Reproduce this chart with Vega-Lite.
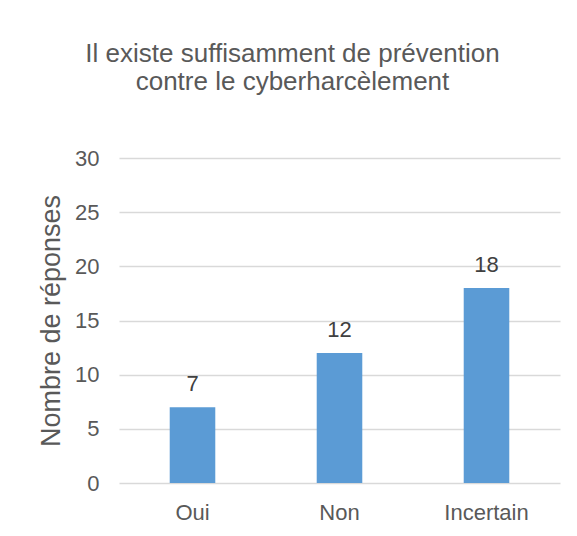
{
  "$schema": "https://vega.github.io/schema/vega-lite/v6.json",
  "autosize": "none",
  "width": 441,
  "height": 325,
  "padding": {"left": 119, "top": 158, "right": 17, "bottom": 53},
  "background": "white",
  "config": {
    "font": "Liberation Sans",
    "view": {"stroke": null},
    "axis": {"labelColor": "#595959", "titleColor": "#595959", "labelFont": "Liberation Sans", "titleFont": "Liberation Sans"}
  },
  "title": {
    "text": ["Il existe suffisamment de prévention", "contre le cyberharcèlement"],
    "anchor": "middle",
    "frame": "group",
    "dx": -47,
    "dy": 40,
    "fontSize": 26,
    "lineHeight": 28,
    "font": "Liberation Sans",
    "fontWeight": "normal",
    "color": "#595959",
    "baseline": "bottom",
    "offset": 66
  },
  "data": {
    "values": [
      {"reponse": "Oui", "nombre": 7},
      {"reponse": "Non", "nombre": 12},
      {"reponse": "Incertain", "nombre": 18}
    ]
  },
  "encoding": {
    "x": {
      "field": "reponse",
      "type": "nominal",
      "sort": ["Oui", "Non", "Incertain"],
      "scale": {"paddingInner": 0.69, "paddingOuter": 0.345},
      "axis": {
        "title": null,
        "labelAngle": 0,
        "labelFontSize": 22,
        "labelPadding": 19,
        "ticks": false,
        "domain": false,
        "grid": false
      }
    },
    "y": {
      "field": "nombre",
      "type": "quantitative",
      "scale": {"domain": [0, 30]},
      "axis": {
        "title": "Nombre de réponses",
        "titleFontSize": 27,
        "titleFontWeight": "normal",
        "titlePadding": 9,
        "values": [0, 5, 10, 15, 20, 25, 30],
        "labelFontSize": 22,
        "labelPadding": 20,
        "ticks": false,
        "domain": false,
        "grid": true,
        "gridColor": "#D9D9D9",
        "gridWidth": 1.3
      }
    }
  },
  "layer": [
    {"mark": {"type": "bar", "color": "#5B9BD5"}},
    {
      "mark": {"type": "text", "baseline": "alphabetic", "dy": -16, "fontSize": 22, "color": "#404040", "font": "Liberation Sans"},
      "encoding": {"text": {"field": "nombre", "type": "quantitative"}}
    }
  ]
}
